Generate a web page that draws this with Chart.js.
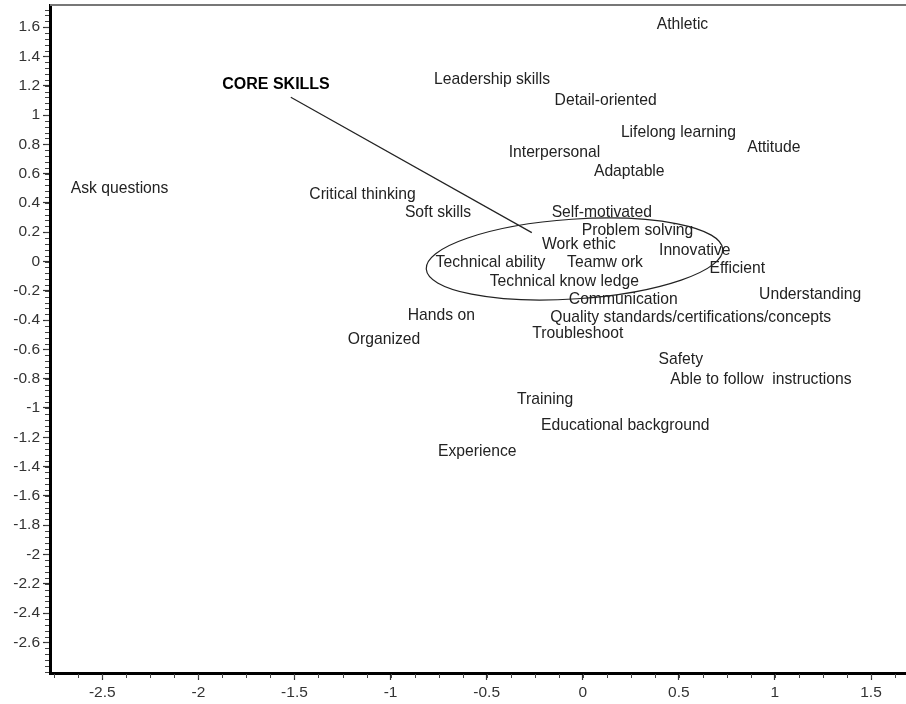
<!DOCTYPE html>
<html>
<head>
<meta charset="utf-8">
<script src="https://cdn.jsdelivr.net/npm/chart.js@4.4.1/dist/chart.umd.min.js"></script>
<style>
  html, body { margin: 0; padding: 0; background: #fff; }
</style>
</head>
<body>
<canvas id="chart" width="906" height="704"></canvas>
<script>
// Skill labels and where they sit on the map
const skillNames = [
    'Athletic', 'Leadership skills', 'Detail-oriented', 'Lifelong learning', 'Attitude',
    'Interpersonal', 'Adaptable', 'Ask questions', 'Critical thinking', 'Soft skills',
    'Self-motivated', 'Problem solving', 'Work ethic', 'Innovative', 'Technical ability',
    'Teamw ork', 'Efficient', 'Technical know ledge', 'Understanding', 'Communication',
    'Hands on', 'Quality standards/certifications/concepts', 'Troubleshoot', 'Organized', 'Safety',
    'Able to follow  instructions', 'Training', 'Educational background', 'Experience'
];
const skillX = [
    0.519, -0.472, 0.119, 0.498, 0.994,
    -0.147, 0.242, -2.41, -1.146, -0.753,
    0.099, 0.285, -0.02, 0.583, -0.48,
    0.116, 0.804, -0.096, 1.183, 0.211,
    -0.736, 0.562, -0.026, -1.034, 0.51,
    0.927, -0.196, 0.221, -0.549
];
const skillY = [
    1.62, 1.244, 1.097, 0.877, 0.775,
    0.742, 0.613, 0.494, 0.455, 0.33,
    0.334, 0.21, 0.118, 0.075, -0.007,
    -0.007, -0.046, -0.137, -0.227, -0.259,
    -0.371, -0.382, -0.491, -0.536, -0.667,
    -0.809, -0.943, -1.122, -1.295
];

// Core skills callout
const coreLabel = 'CORE SKILLS';
const coreX = [-1.596];
const coreY = [1.205];
const leaderX = [-1.519, -0.265];
const leaderY = [1.121, 0.197];
// ellipse round the core group: centre and radii in data units, tilt in degrees
const ringCenter = [-0.043, 0.017];
const ringRadius = [0.773, 0.272];
const ringTilt = -3.85;

// Axes
const xRange = [-2.772, 1.682];
const yRange = [-2.809, 1.751];
const xTicks = [-2.5, -2, -1.5, -1, -0.5, 0, 0.5, 1, 1.5];
const yTicks = [1.6, 1.4, 1.2, 1, 0.8, 0.6, 0.4, 0.2, 0, -0.2, -0.4, -0.6, -0.8, -1,
    -1.2, -1.4, -1.6, -1.8, -2, -2.2, -2.4, -2.6];
const xMinorStep = 0.125;
const yMinorStep = 0.04;

const FONT = 'Arial, "Liberation Sans", sans-serif';

// Text labels drawn at each (invisible) point
const pointLabels = {
    id: 'pointLabels',
    afterDatasetsDraw(chart) {
        const ctx = chart.ctx;
        ctx.save();
        ctx.textAlign = 'center';
        ctx.textBaseline = 'middle';
        ctx.fillStyle = '#222';
        ctx.font = '15.7px ' + FONT;
        chart.getDatasetMeta(0).data.forEach((pt, i) => {
            ctx.fillText(skillNames[i], pt.x, pt.y);
        });
        ctx.fillStyle = '#000';
        ctx.font = 'bold 16px ' + FONT;
        chart.getDatasetMeta(1).data.forEach(pt => {
            ctx.fillText(coreLabel, pt.x, pt.y);
        });
        ctx.restore();
    }
};

// Ellipse round the core skills
const coreRing = {
    id: 'coreRing',
    afterDatasetsDraw(chart) {
        const { ctx, scales } = chart;
        const cx = scales.x.getPixelForValue(ringCenter[0]);
        const cy = scales.y.getPixelForValue(ringCenter[1]);
        const rx = Math.abs(scales.x.getPixelForValue(ringCenter[0] + ringRadius[0]) - cx);
        const ry = Math.abs(scales.y.getPixelForValue(ringCenter[1] + ringRadius[1]) - cy);
        ctx.save();
        ctx.strokeStyle = '#222';
        ctx.lineWidth = 1.2;
        ctx.beginPath();
        ctx.ellipse(cx, cy, rx, ry, ringTilt * Math.PI / 180, 0, Math.PI * 2);
        ctx.stroke();
        ctx.restore();
    }
};

// Minor ticks and the thin top frame line
const frame = {
    id: 'frame',
    afterDraw(chart) {
        const { ctx, chartArea, scales } = chart;
        ctx.save();
        ctx.strokeStyle = '#777';
        ctx.lineWidth = 2;
        ctx.beginPath();
        ctx.moveTo(chartArea.left, chartArea.top);
        ctx.lineTo(chartArea.right, chartArea.top);
        ctx.stroke();

        ctx.strokeStyle = '#444';
        ctx.lineWidth = 1;
        ctx.beginPath();
        for (let i = Math.ceil(xRange[0] / xMinorStep); i * xMinorStep <= xRange[1]; i++) {
            const px = Math.round(scales.x.getPixelForValue(i * xMinorStep)) + 0.5;
            ctx.moveTo(px, chartArea.bottom + 1);
            ctx.lineTo(px, chartArea.bottom + 5);
        }
        for (let i = Math.ceil(yRange[0] / yMinorStep); i * yMinorStep <= yRange[1]; i++) {
            const py = Math.round(scales.y.getPixelForValue(i * yMinorStep)) + 0.5;
            ctx.moveTo(chartArea.left - 1, py);
            ctx.lineTo(chartArea.left - 5, py);
        }
        ctx.stroke();
        ctx.restore();
    }
};

new Chart(document.getElementById('chart'), {
    type: 'scatter',
    data: {
        datasets: [{
            label: 'Skills',
            data: skillNames.map((n, i) => ({ x: skillX[i], y: skillY[i] })),
            pointRadius: 0,
            pointHoverRadius: 0
        }, {
            label: 'Core',
            data: coreX.map((x, i) => ({ x: x, y: coreY[i] })),
            pointRadius: 0,
            pointHoverRadius: 0
        }, {
            type: 'line',
            label: 'Leader',
            data: leaderX.map((x, i) => ({ x: x, y: leaderY[i] })),
            borderColor: '#222',
            borderWidth: 1.2,
            pointRadius: 0,
            fill: false
        }]
    },
    options: {
        responsive: false,
        animation: false,
        events: [],
        layout: { padding: { top: 5, right: 0, left: 0, bottom: 0 } },
        plugins: {
            legend: { display: false },
            tooltip: { enabled: false }
        },
        scales: {
            x: {
                type: 'linear',
                min: xRange[0],
                max: xRange[1],
                afterBuildTicks: s => { s.ticks = xTicks.map(v => ({ value: v })); },
                afterFit: s => { s.height = 31; s.paddingLeft = 0; s.paddingRight = 0; },
                border: { color: '#000', width: 3 },
                grid: { drawOnChartArea: false, tickLength: 7, tickColor: '#333', tickWidth: 1.2 },
                ticks: {
                    autoSkip: false,
                    maxRotation: 0,
                    padding: 3,
                    color: '#333',
                    font: { family: FONT, size: 15.5 },
                    callback: v => String(v)
                }
            },
            y: {
                type: 'linear',
                min: yRange[0],
                max: yRange[1],
                afterBuildTicks: s => { s.ticks = yTicks.map(v => ({ value: v })); },
                afterFit: s => { s.width = 50; s.paddingTop = 0; s.paddingBottom = 0; },
                border: { color: '#000', width: 3 },
                grid: { drawOnChartArea: false, tickLength: 7, tickColor: '#333', tickWidth: 1.2 },
                ticks: {
                    autoSkip: false,
                    padding: 3,
                    color: '#333',
                    font: { family: FONT, size: 15.5 },
                    callback: v => String(v)
                }
            }
        }
    },
    plugins: [coreRing, pointLabels, frame]
});
</script>
</body>
</html>
